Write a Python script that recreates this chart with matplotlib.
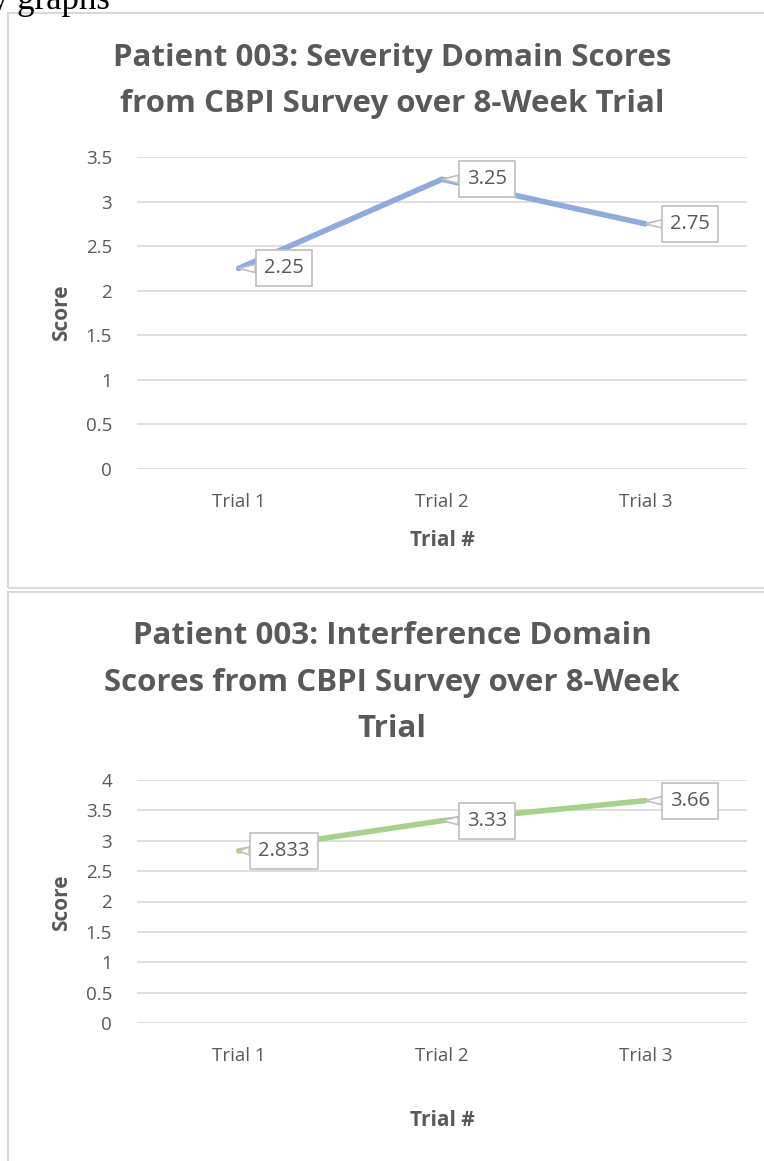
import matplotlib.pyplot as plt
from matplotlib.patches import Rectangle

# data
trials = ['Trial 1', 'Trial 2', 'Trial 3']
severity = [2.25, 3.25, 2.75]
interference = [2.833, 3.33, 3.66]
severity_labels = ['2.25', '3.25', '2.75']
interference_labels = ['2.833', '3.33', '3.66']
severity_ticks = [0, 0.5, 1, 1.5, 2, 2.5, 3, 3.5]
interference_ticks = [0, 0.5, 1, 1.5, 2, 2.5, 3, 3.5, 4]
severity_title = ['Patient 003: Severity Domain Scores',
                  'from CBPI Survey over 8-Week Trial']
interference_title = ['Patient 003: Interference Domain',
                      'Scores from CBPI Survey over 8-Week',
                      'Trial']

W, H = 764, 1161
plt.rcParams['font.family'] = ['Open Sans', 'DejaVu Sans']
grey = '#595959'
grid = '#D9D9D9'

fig = plt.figure(figsize=(W / 100, H / 100), dpi=100)


def fx(px):
    return px / W


def fy(py):
    return 1 - py / H


# "graphs" text cut off at the top of the page
fig.text(fx(-9), fy(9), 'y graphs', fontsize=25, family='Liberation Serif',
         color='black', va='baseline', ha='left')

# chart frames
fig.patches.append(Rectangle((fx(8), fy(588)), fx(800), fy(13) - fy(588),
                             transform=fig.transFigure, fill=False,
                             ec=grid, lw=1.5))
fig.patches.append(Rectangle((fx(8), fy(1200)), fx(800), fy(592) - fy(1200),
                             transform=fig.transFigure, fill=False,
                             ec=grid, lw=1.5))


def make_chart(top, bottom, ticks, vals, labels, color, title, title_y,
               xlab_y, score_y):
    ax = fig.add_axes([fx(137), fy(bottom), fx(747) - fx(137),
                       fy(top) - fy(bottom)])
    ax.set_xlim(-0.5, 2.5)
    ax.set_ylim(ticks[0], ticks[-1])
    ax.set_yticks(ticks)
    ax.set_yticklabels([f'{t:g}' for t in ticks])
    ax.set_xticks(range(len(trials)))
    ax.set_xticklabels(trials)
    for s in ax.spines.values():
        s.set_visible(False)
    ax.grid(axis='y', color=grid, lw=1.2)
    ax.set_axisbelow(True)
    ax.tick_params(length=0, colors=grey, labelsize=13.5)
    ax.tick_params(axis='y', pad=18)
    ax.tick_params(axis='x', pad=17)
    ax.plot(range(len(vals)), vals, color=color, lw=4,
            solid_capstyle='round', clip_on=False)
    for i, (v, lab) in enumerate(zip(vals, labels)):
        ax.annotate(lab, (i, v), xytext=(45, 0), textcoords='offset pixels',
                    ha='center', va='center', fontsize=14.5, color=grey,
                    bbox=dict(boxstyle='square,pad=0.4', fc='white',
                              ec='#BFBFBF', lw=1.2),
                    arrowprops=dict(arrowstyle='wedge,tail_width=0.4',
                                    fc='white', ec='#BFBFBF', lw=1.2,
                                    shrinkA=0, shrinkB=0))
    for line, y in zip(title, title_y):
        fig.text(fx(392), fy(y), line, ha='center', va='center',
                 fontsize=22.5, fontweight='bold', color=grey)
    fig.text(fx(442), fy(xlab_y), 'Trial #', ha='center', va='center',
             fontsize=15, fontweight='bold', color=grey)
    fig.text(fx(62), fy(score_y), 'Score', ha='center', va='center',
             rotation=90, fontsize=15, fontweight='bold', color=grey)
    return ax


make_chart(157, 469, severity_ticks, severity, severity_labels, '#8FAADC',
           severity_title, [58, 104], 541, 313)
make_chart(780, 1023, interference_ticks, interference, interference_labels,
           '#A9D18E', interference_title, [636, 683, 729], 1120, 903)

fig.savefig('out.png', dpi=100)
